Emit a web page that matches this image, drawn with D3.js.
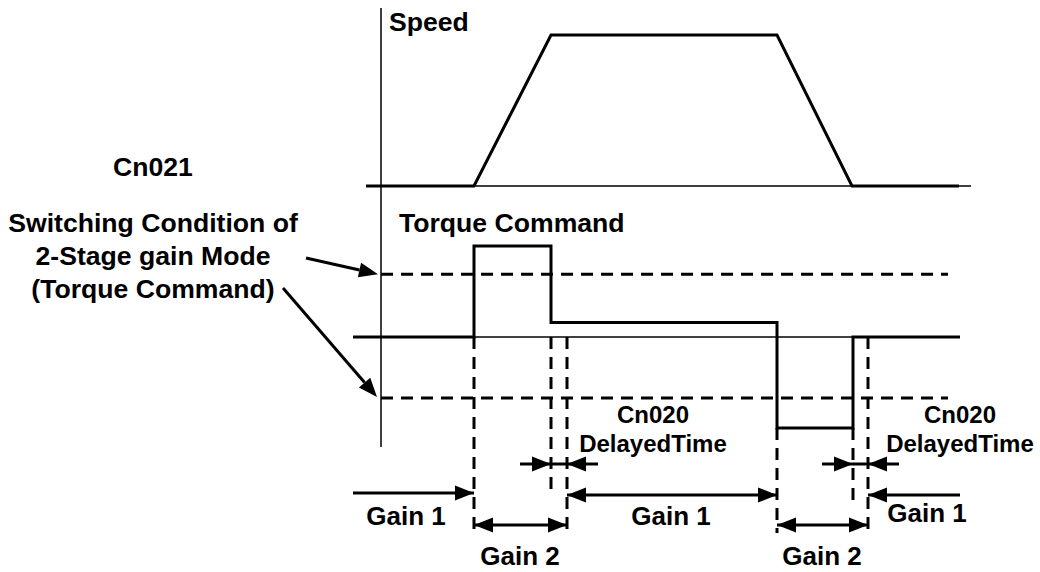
<!DOCTYPE html>
<html lang="en">
<head>
    <meta charset="UTF-8">
    <title>2-Stage Gain Switching</title>
    <script src="https://d3js.org/d3.v7.min.js"></script>
    <style>
        body {
            margin: 0;
            padding: 0;
            background-color: #ffffff;
        }
        text {
            font-family: Arial, "Liberation Sans", sans-serif;
            font-weight: bold;
            fill: #000;
        }
    </style>
</head>
<body>
    <svg id="chart"></svg>

    <script>
        const width = 1040;
        const height = 572;

        // time values (arbitrary units, 0 = vertical axis)
        const speedTimes = [-15, 93, 170, 396, 471, 578];
        const speedValues = [0, 0, 1, 1, 0, 0];

        const torqueTimes = [-28, 93, 93, 170, 170, 396, 396, 472, 472, 579];
        const torqueValues = [0, 0, 1, 1, 0.16, 0.16, -1, -1, 0, 0];

        const thresholdValues = [0.69, -0.67];

        // switch instants
        const guideTimes = [93, 170, 186, 396, 472, 487];
        const guideTops = [0, 0, 0, -1, -1, 0];

        const gainLabels = ["Gain 1", "Gain 2", "Gain 1", "Gain 2", "Gain 1"];
        const gainStarts = [-28, 93, 186, 396, 579];
        const gainEnds = [93, 186, 396, 487, 487];

        const delayStarts = [170, 472];
        const delayEnds = [186, 487];

        const svg = d3.select("#chart")
            .attr("width", width)
            .attr("height", height);

        const x = d3.scaleLinear().domain([-28, 579]).range([353, 960]);
        const ySpeed = d3.scaleLinear().domain([0, 1]).range([186, 35]);
        const yTorque = d3.scaleLinear().domain([-1, 1]).range([428, 246]);

        const black = "#000";
        const bigFont = "26.6px";

        function arrowHead(xTip, yTip, dir) {
            // dir: +1 points right, -1 points left
            const len = 19, half = 7.5;
            svg.append("path")
                .attr("d", `M${xTip},${yTip} L${xTip - dir * len},${yTip - half} L${xTip - dir * len},${yTip + half} Z`)
                .attr("fill", black);
        }

        function hLine(x1, x2, y, w) {
            svg.append("line")
                .attr("x1", x1).attr("x2", x2)
                .attr("y1", y).attr("y2", y)
                .attr("stroke", black)
                .attr("stroke-width", w);
        }

        // vertical axis
        svg.append("line")
            .attr("x1", 381).attr("x2", 381)
            .attr("y1", 8).attr("y2", 447)
            .attr("stroke", black)
            .attr("stroke-width", 1.5);

        // speed baseline and trace
        hLine(366, 971, ySpeed(0), 1.5);
        const speedLine = d3.line()
            .x((d, i) => x(speedTimes[i]))
            .y(d => ySpeed(d));
        svg.append("path")
            .attr("d", speedLine(speedValues))
            .attr("fill", "none")
            .attr("stroke", black)
            .attr("stroke-width", 3)
            .attr("stroke-linejoin", "miter");

        // torque zero line and trace
        hLine(353, 960, yTorque(0), 1.5);
        const torqueLine = d3.line()
            .x((d, i) => x(torqueTimes[i]))
            .y(d => yTorque(d));
        svg.append("path")
            .attr("d", torqueLine(torqueValues))
            .attr("fill", "none")
            .attr("stroke", black)
            .attr("stroke-width", 3);

        // switching thresholds
        svg.selectAll(".threshold")
            .data(thresholdValues)
            .enter()
            .append("line")
            .attr("class", "threshold")
            .attr("x1", 381).attr("x2", 948)
            .attr("y1", d => yTorque(d)).attr("y2", d => yTorque(d))
            .attr("stroke", black)
            .attr("stroke-width", 3)
            .attr("stroke-dasharray", "12,8");

        // vertical dashed guides
        const guideBottoms = [533, 497, 533, 533, 507, 533];
        svg.selectAll(".guide")
            .data(guideTimes)
            .enter()
            .append("line")
            .attr("class", "guide")
            .attr("x1", d => x(d)).attr("x2", d => x(d))
            .attr("y1", (d, i) => yTorque(guideTops[i]))
            .attr("y2", (d, i) => guideBottoms[i])
            .attr("stroke", black)
            .attr("stroke-width", 3)
            .attr("stroke-dasharray", "12,8");

        // gain spans
        const gainRows = [493, 525, 495, 525, 495];
        const labelRows = [525, 565, 525, 565, 522];
        gainLabels.forEach((label, i) => {
            const xa = x(gainStarts[i]);
            const xb = x(gainEnds[i]);
            const y = gainRows[i];
            hLine(Math.min(xa, xb), Math.max(xa, xb), y, 3);
            if (i === 0) {
                arrowHead(xb, y, 1);
            } else if (i === gainLabels.length - 1) {
                arrowHead(xb, y, -1);
            } else {
                arrowHead(xa, y, -1);
                arrowHead(xb, y, 1);
            }
        });

        const labelCenters = [406, 520, 671, 822, 927];
        svg.selectAll(".gain-label")
            .data(gainLabels)
            .enter()
            .append("text")
            .attr("class", "gain-label")
            .attr("x", (d, i) => labelCenters[i])
            .attr("y", (d, i) => labelRows[i])
            .attr("text-anchor", "middle")
            .attr("font-size", "26px")
            .text(d => d);

        // delay time markers
        delayStarts.forEach((t, i) => {
            const xa = x(t), xb = x(delayEnds[i]);
            const y = 464;
            hLine(xa - 31, xb + 31, y, 3);
            arrowHead(xa, y, 1);
            arrowHead(xb, y, -1);

            const cx = i === 0 ? 653 : 960;
            svg.append("text")
                .attr("x", cx).attr("y", 423)
                .attr("text-anchor", "middle")
                .attr("font-size", "24px")
                .text("Cn020");
            svg.append("text")
                .attr("x", cx).attr("y", 452)
                .attr("text-anchor", "middle")
                .attr("font-size", "24px")
                .text("DelayedTime");
        });

        // titles
        svg.append("text")
            .attr("x", 389).attr("y", 31)
            .attr("font-size", bigFont)
            .text("Speed");

        svg.append("text")
            .attr("x", 399).attr("y", 232)
            .attr("font-size", bigFont)
            .text("Torque Command");

        svg.append("text")
            .attr("x", 153).attr("y", 176)
            .attr("text-anchor", "middle")
            .attr("font-size", bigFont)
            .text("Cn021");

        const conditionLines = ["Switching Condition of", "2-Stage gain Mode", "(Torque Command)"];
        svg.selectAll(".cond")
            .data(conditionLines)
            .enter()
            .append("text")
            .attr("class", "cond")
            .attr("x", 153)
            .attr("y", (d, i) => 232 + i * 33)
            .attr("text-anchor", "middle")
            .attr("font-size", bigFont)
            .text(d => d);

        // pointer arrows to thresholds
        function pointer(x1, y1, x2, y2) {
            const ang = Math.atan2(y2 - y1, x2 - x1);
            const len = 19, half = 7.5;
            const bx = x2 - len * Math.cos(ang), by = y2 - len * Math.sin(ang);
            svg.append("line")
                .attr("x1", x1).attr("y1", y1)
                .attr("x2", bx).attr("y2", by)
                .attr("stroke", black)
                .attr("stroke-width", 3);
            const px = -Math.sin(ang) * half, py = Math.cos(ang) * half;
            svg.append("path")
                .attr("d", `M${x2},${y2} L${bx + px},${by + py} L${bx - px},${by - py} Z`)
                .attr("fill", black);
        }
        pointer(306, 258, 378, yTorque(thresholdValues[0]));
        pointer(283, 288, 377, yTorque(thresholdValues[1]) - 1);
    </script>
</body>
</html>
